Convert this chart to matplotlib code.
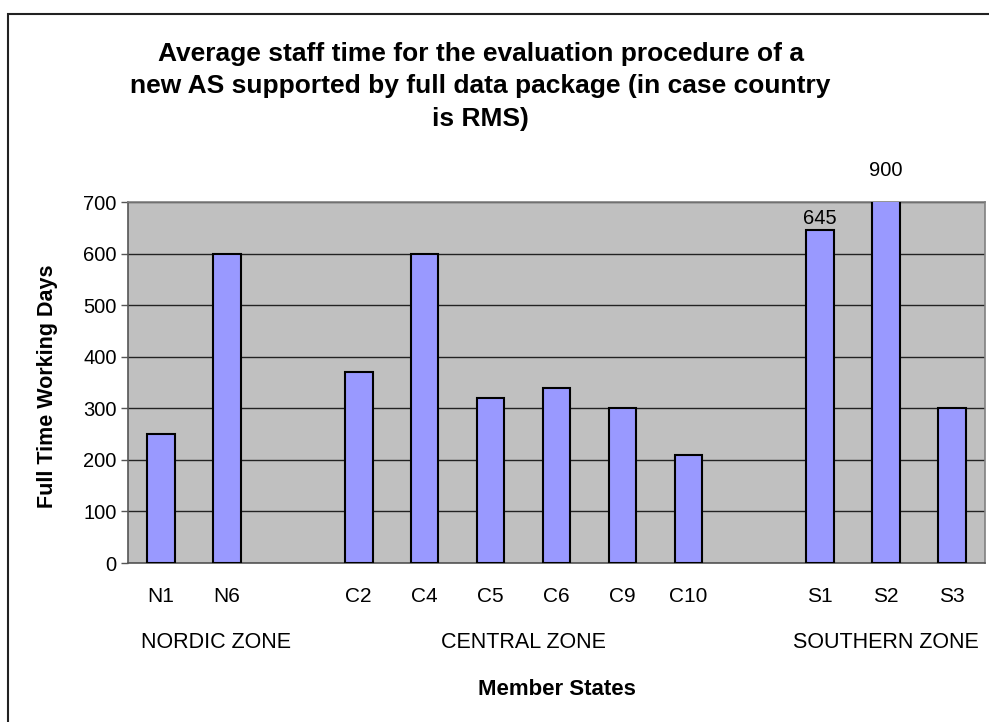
import matplotlib
matplotlib.use('Agg')
import matplotlib.pyplot as plt
import matplotlib.patches as patches

plt.rcParams['font.family'] = ['Liberation Sans', 'DejaVu Sans']

# data
states = ['N1', 'N6', '', 'C2', 'C4', 'C5', 'C6', 'C9', 'C10', '', 'S1', 'S2', 'S3']
days = [250, 600, 0, 370, 600, 320, 340, 300, 210, 0, 645, 900, 300]
zones = ['NORDIC ZONE', 'CENTRAL ZONE', 'SOUTHERN ZONE']
zone_pos = [0.83, 5.5, 11.0]
labelled = {'S1': 645, 'S2': 900}

fig = plt.figure(figsize=(9.89, 7.22), dpi=100)
ax = fig.add_axes([0.1294, 0.2202, 0.8666, 0.5])

x = list(range(len(states)))
heights = [d if s else 0 for s, d in zip(states, days)]
bars = ax.bar(x, heights, width=0.42, color='#9999FF', edgecolor='black',
              linewidth=1.5, zorder=3)
for b, s in zip(bars, states):
    if not s:
        b.set_visible(False)

ax.set_facecolor('#C0C0C0')
ax.set_xlim(-0.5, len(states) - 0.5)
ax.set_ylim(0, 700)
ax.set_yticks(range(0, 701, 100))
ax.yaxis.grid(True, color='#222222', linewidth=1)
ax.set_axisbelow(True)
ax.tick_params(axis='y', length=5, width=1, color='#555555', labelsize=14.5, pad=3)
ax.set_xticks(x)
ax.set_xticklabels(states)
ax.tick_params(axis='x', length=0, labelsize=15, pad=17.5)
for sp in ax.spines.values():
    sp.set_color('#808080')
    sp.set_linewidth(1.2)
ax.spines['left'].set_color('#555555')
ax.spines['bottom'].set_color('#555555')

# data labels
for s, v in labelled.items():
    i = states.index(s)
    if v <= 700:
        ax.annotate(str(v), (i, v), xytext=(0, 2), textcoords='offset points',
                    ha='center', va='bottom', fontsize=14.5)
    else:
        ax.annotate(str(v), (i, 700), xytext=(0, 16), textcoords='offset points',
                    ha='center', va='bottom', fontsize=14.5, annotation_clip=False)

# zone labels
for z, p in zip(zones, zone_pos):
    ax.annotate(z, (p, 0), xycoords=('data', 'axes fraction'),
                xytext=(0, -79), textcoords='offset pixels',
                ha='center', va='center', fontsize=15.5, annotation_clip=False)

ax.set_xlabel('Member States', fontsize=16, fontweight='bold', va='center')
ax.xaxis.set_label_coords(0.5, -0.349)
ax.set_ylabel('Full Time Working Days', fontsize=15.5, fontweight='bold', va='center')
ax.yaxis.set_label_coords(-0.094, 0.49)

fig.suptitle('Average staff time for the evaluation procedure of a\n'
             'new AS supported by full data package (in case country\n'
             'is RMS)', x=0.486, y=0.942, fontsize=19, fontweight='bold',
             linespacing=1.45)

# chart border
fig.patches.append(patches.Rectangle((8 / 989, -0.1), 2, 1.1 - 14 / 722,
                                     transform=fig.transFigure, fill=False,
                                     edgecolor='#222222', linewidth=1.5))

fig.savefig('out.png', dpi=100)
